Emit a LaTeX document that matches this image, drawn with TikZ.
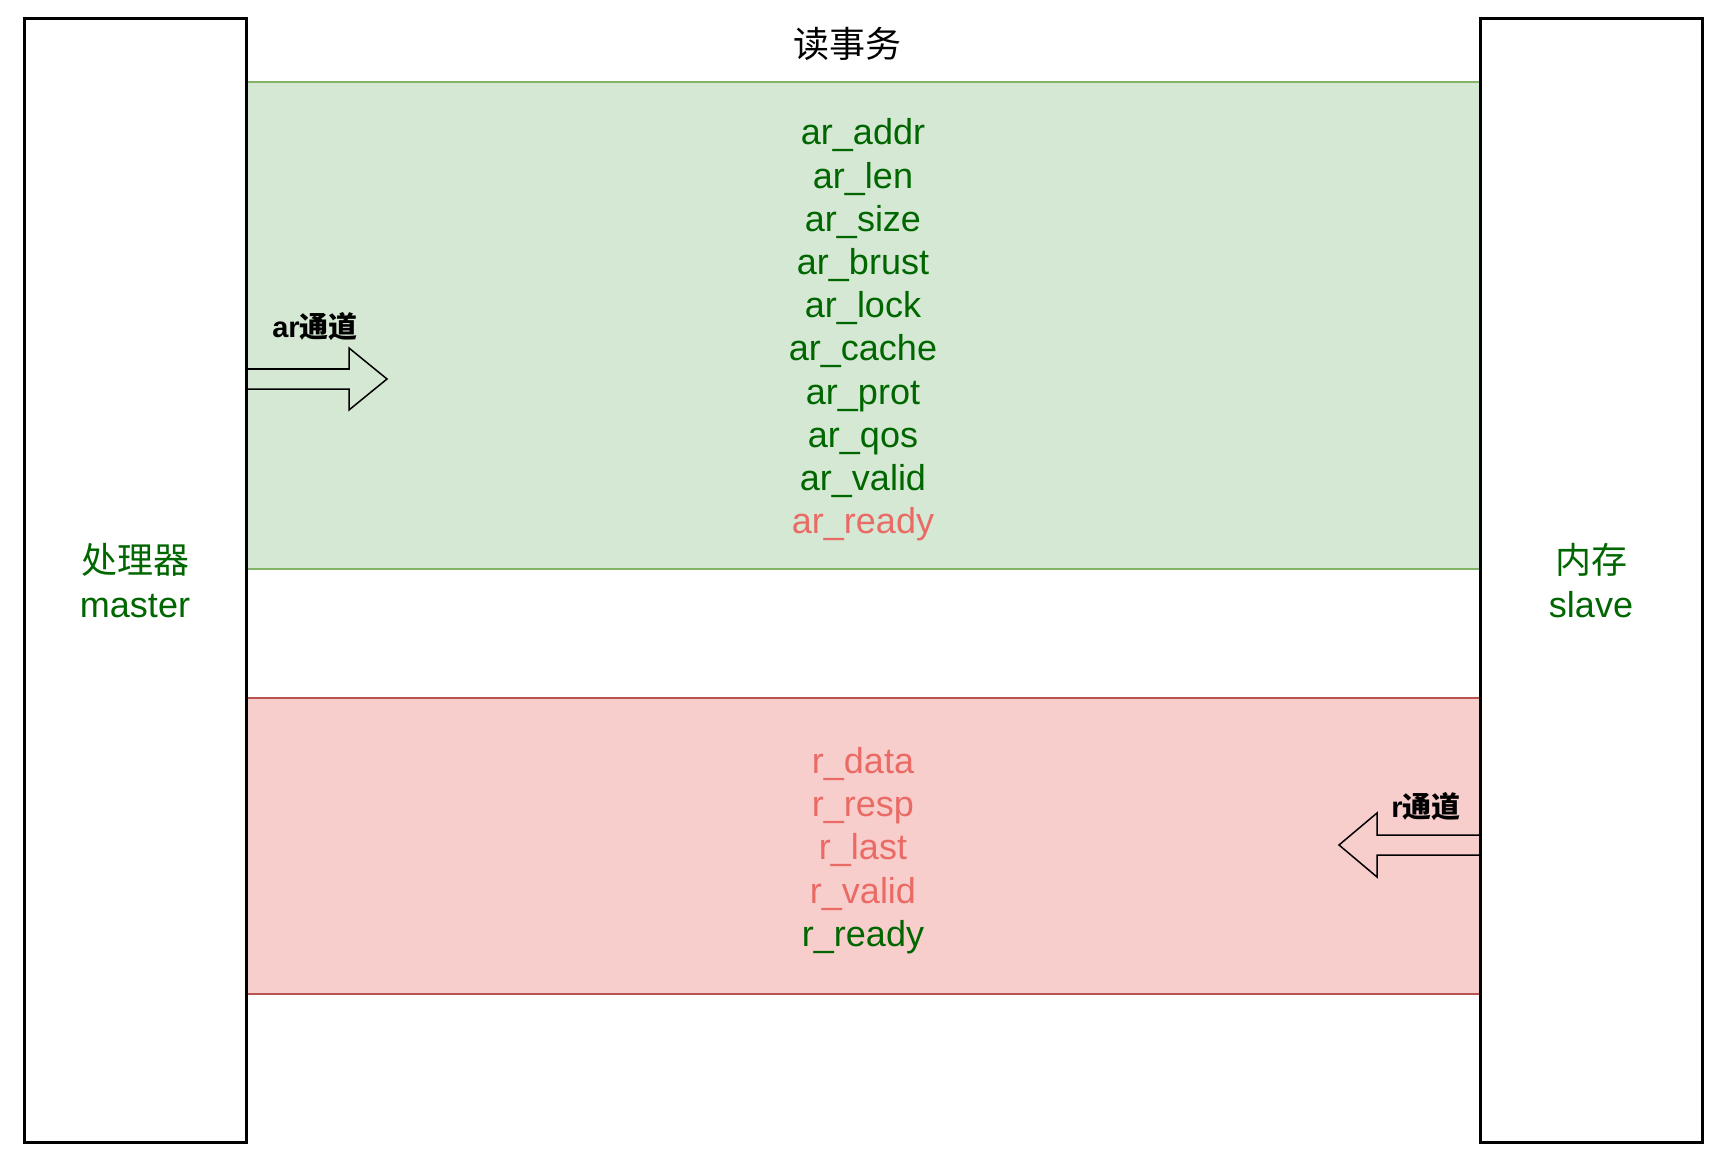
\documentclass[tikz,border=0pt]{standalone}
\usepackage{fontspec}
\setmainfont{Liberation Sans}
\newfontfamily\cjk{Noto Sans CJK SC}
\definecolor{tgreen}{HTML}{006600}
\definecolor{tred}{HTML}{EA6B66}
\definecolor{gfill}{HTML}{D5E8D4}
\definecolor{gline}{HTML}{82B366}
\definecolor{rfill}{HTML}{F8CECC}
\definecolor{rline}{HTML}{B85450}
\tikzset{
  band/.style={rectangle, inner sep=0, outer sep=0, line width=2.2pt, minimum width=1234pt},
  unit/.style={rectangle, draw=black, fill=white, line width=3pt, inner sep=0, outer sep=0,
    minimum width=222pt, minimum height=1123pt},
  bigtext/.style={align=center, font=\fontsize{36}{43.2}\selectfont},
  chlabel/.style={font=\fontsize{29}{34}\selectfont\bfseries, text=black, inner sep=0},
  fatarrow/.style={draw=black, line width=1.5pt, line join=miter}
}
\begin{document}
\begin{tikzpicture}[x=1pt,y=-1pt]
\useasboundingbox[fill=white] (0,0) rectangle (1714,1158);
% bands
\node[band, fill=gfill, draw=gline, minimum height=487pt] (gband) at (863,325.5) {};
\node[band, fill=rfill, draw=rline, minimum height=296pt] (rband) at (863,846) {};
% title
\node[bigtext, text=black] (title) at (847,44) {\cjk 读事务};
% signal lists
\node[bigtext, text=tgreen] (arsig) at ([yshift=-4.5pt]gband.center) {ar\_addr\\ar\_len\\ar\_size\\ar\_brust\\ar\_lock\\ar\_cache\\ar\_prot\\ar\_qos\\ar\_valid\\{\color{tred}ar\_ready}};
\node[bigtext, text=tred] (rsig) at ([yshift=-4.5pt]rband.center) {r\_data\\r\_resp\\r\_last\\r\_valid\\{\color{tgreen}r\_ready}};
% units
\node[unit] (master) at (135,580.5) {};
\node[unit] (slave) at (1591,580.5) {};
\node[bigtext, text=tgreen] (mlabel) at (master.center) {{\cjk 处理器}\\master};
\node[bigtext, text=tgreen] (slabel) at (slave.center) {{\cjk 内存}\\slave};
% channel arrows
\draw[fatarrow] (master.east|-0,369) -- (349,369) -- (349,348) -- (387,379) -- (349,410) -- (349,389) -- (master.east|-0,389) -- cycle;
\draw[fatarrow] (slave.west|-0,835) -- (1377,835) -- (1377,813) -- (1339,845) -- (1377,877) -- (1377,855) -- (slave.west|-0,855) -- cycle;
\draw[line width=3pt] (master.north east) -- (master.south east);
\draw[line width=3pt] (slave.north west) -- (slave.south west);
\node[chlabel] (arlab) at (315,327) {ar{\cjk 通道}};
\node[chlabel] (rlab) at (1426,807) {r{\cjk 通道}};
\end{tikzpicture}
\end{document}
